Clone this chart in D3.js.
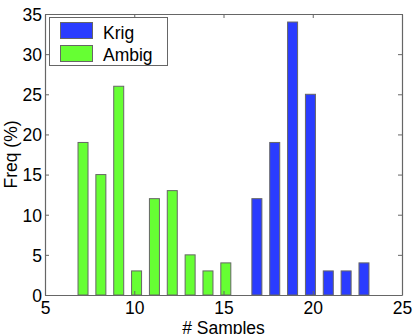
<!DOCTYPE html>
<html><head><meta charset="utf-8">
<script src="https://cdn.jsdelivr.net/npm/d3@7"></script>
<style>body{margin:0;background:#fff}svg{display:block}text{font-family:"Liberation Sans",Arial,sans-serif}</style>
</head><body>
<script>
const kriegX = [17, 18, 19, 20, 21, 22, 23];
const kriegY = [12, 19, 34, 25, 3, 3, 4];
const ambigX = [7, 8, 9, 10, 11, 12, 13, 14, 15];
const ambigY = [19, 15, 26, 3, 12, 13, 5, 3, 4];
const xTicks = [5, 10, 15, 20, 25];
const yTicks = [0, 5, 10, 15, 20, 25, 30, 35];
const seriesNames = ["Krig", "Ambig"];

const W = 415, H = 334;
const m = {l: 45, r: 13, t: 14, b: 39};
const FS = "17.5px";
const svg = d3.select("body").append("svg").attr("width", W).attr("height", H);
const x = d3.scaleLinear().domain([5, 25]).range([m.l, W - m.r]);
const y = d3.scaleLinear().domain([0, 35]).range([H - m.b, m.t]);
const axisCol = "#666";
const blue = "#2a3cff", green = "#66ff33", edge = "#666";
const bw = 0.56, off = 0.13;

function bars(xs, ys, col, dx) {
  svg.append("g").selectAll("rect").data(xs).join("rect")
    .attr("x", (d) => x(d + dx - bw / 2))
    .attr("width", x(bw) - x(0))
    .attr("y", (d, i) => y(ys[i]))
    .attr("height", (d, i) => y(0) - y(ys[i]))
    .attr("fill", col).attr("stroke", edge).attr("stroke-width", 1);
}
bars(ambigX, ambigY, green, off);
bars(kriegX, kriegY, blue, -off);

// axes
const tl = 4;
const gB = svg.append("g").attr("transform", `translate(0,${y(0)})`)
  .call(d3.axisBottom(x).tickValues(xTicks).tickSizeInner(-tl).tickSizeOuter(0).tickPadding(7));
const gT = svg.append("g").attr("transform", `translate(0,${m.t})`)
  .call(d3.axisTop(x).tickValues(xTicks).tickSizeInner(-tl).tickSizeOuter(0).tickFormat(""));
const gL = svg.append("g").attr("transform", `translate(${m.l},0)`)
  .call(d3.axisLeft(y).tickValues(yTicks).tickSizeInner(-tl).tickSizeOuter(0).tickPadding(3));
const gR = svg.append("g").attr("transform", `translate(${W - m.r},0)`)
  .call(d3.axisRight(y).tickValues(yTicks).tickSizeInner(-tl).tickSizeOuter(0).tickFormat(""));
[gB, gT, gL, gR].forEach(g => {
  g.selectAll("path.domain").attr("stroke", axisCol).attr("stroke-width", 1.2);
  g.selectAll(".tick line").attr("stroke", axisCol);
  g.selectAll("text").attr("fill", "#000").style("font-size", FS).style("font-family", '"Liberation Sans",Arial,sans-serif');
});
gB.selectAll("text").attr("dy", "0.71em");
gL.selectAll("text").attr("dy", "0.36em");

// labels
svg.append("text").attr("x", x(15)).attr("y", 334).attr("text-anchor", "middle")
  .style("font-size", FS).text("# Samples");
svg.append("text").attr("transform", `translate(17,${y(17.5)}) rotate(-90)`).attr("text-anchor", "middle")
  .style("font-size", FS).text("Freq (%)");

// legend
const lg = svg.append("g");
lg.append("rect").attr("x", 49.5).attr("y", 17.5).attr("width", 118).attr("height", 48)
  .attr("fill", "#fff").attr("stroke", axisCol);
const cols = [blue, green];
seriesNames.forEach((n, i) => {
  lg.append("rect").attr("x", 60.5).attr("y", 22.5 + i * 23).attr("width", 32).attr("height", 16)
    .attr("fill", cols[i]).attr("stroke", edge);
  lg.append("text").attr("x", 103).attr("y", 38.5 + i * 22.5).style("font-size", FS).text(n);
});
</script>
</body></html>
